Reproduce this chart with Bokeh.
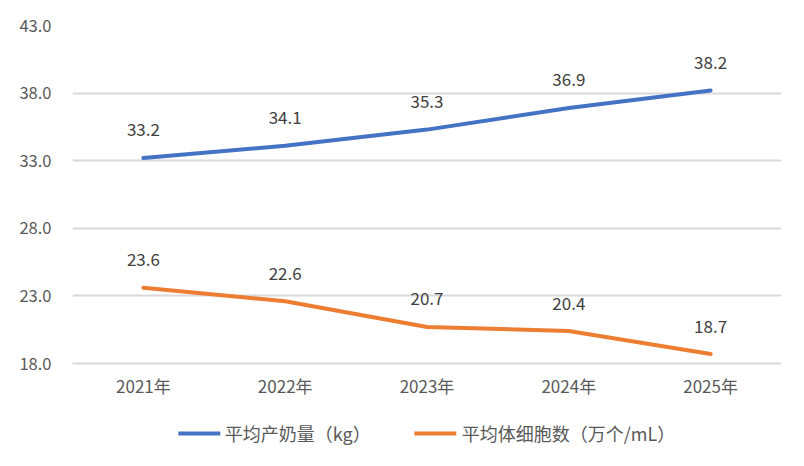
from bokeh.plotting import figure
from bokeh.layouts import column
from bokeh.models import FactorRange, Range1d, Legend, LegendItem, ColumnDataSource, FixedTicker, NumeralTickFormatter
from bokeh.core.properties import value
from bokeh.embed import file_html
from bokeh.resources import INLINE

years = ["2021年", "2022年", "2023年", "2024年", "2025年"]
milk = [33.2, 34.1, 35.3, 36.9, 38.2]
scc = [23.6, 22.6, 20.7, 20.4, 18.7]
milk_name = "平均产奶量（kg）"
scc_name = "平均体细胞数（万个/mL）"
y_ticks = [18.0, 23.0, 28.0, 33.0, 38.0, 43.0]

FONT = "Noto Sans CJK SC"
BLUE = "#4472C4"
ORANGE = "#ED7D31"

p = figure(width=804, height=400, x_range=FactorRange(*years), y_range=Range1d(18, 43),
           output_backend="svg", toolbar_location=None,
           min_border_left=72, min_border_right=23, min_border_top=25, min_border_bottom=35)
p.outline_line_color = None
p.border_fill_color = "white"

src_m = ColumnDataSource(dict(x=years, y=milk, t=[f"{v:.1f}" for v in milk]))
src_s = ColumnDataSource(dict(x=years, y=scc, t=[f"{v:.1f}" for v in scc]))

r1 = p.line("x", "y", source=src_m, line_color=BLUE, line_width=4, line_cap="round", line_join="round")
r2 = p.line("x", "y", source=src_s, line_color=ORANGE, line_width=4, line_cap="round", line_join="round")

for src in (src_m, src_s):
    p.text("x", "y", text="t", source=src, text_align="center", text_baseline="middle",
           y_offset=-28, text_font=value(FONT), text_font_size="17px", text_color="#404040")

p.yaxis.ticker = FixedTicker(ticks=y_ticks)
p.yaxis.formatter = NumeralTickFormatter(format="0.0")
p.yaxis.axis_line_color = None
p.yaxis.major_tick_line_color = None
p.yaxis.minor_tick_line_color = None
p.yaxis.major_label_text_font = FONT
p.yaxis.major_label_text_font_size = "16.5px"
p.yaxis.major_label_text_color = "#595959"
p.yaxis.major_label_standoff = 15

p.xaxis.axis_line_color = "#D9D9D9"
p.xaxis.axis_line_width = 2
p.xaxis.major_tick_line_color = None
p.xaxis.minor_tick_line_color = None
p.xaxis.major_label_text_font = FONT
p.xaxis.major_label_text_font_size = "17px"
p.xaxis.major_label_text_color = "#595959"
p.xaxis.major_label_standoff = 3

p.xgrid.grid_line_color = None
p.ygrid.grid_line_color = "#D9D9D9"
p.ygrid.grid_line_width = 2

# legend strip below the chart (series drawn out of its visible range, only the legend shows)
p2 = figure(width=804, height=66, x_range=FactorRange(*years), y_range=Range1d(0, 1),
            output_backend="svg", toolbar_location=None,
            min_border_left=0, min_border_right=0, min_border_top=0, min_border_bottom=0)
p2.axis.visible = False
p2.grid.grid_line_color = None
p2.outline_line_color = None
l1 = p2.line("x", "y", source=src_m, line_color=BLUE, line_width=4, line_cap="round")
l2 = p2.line("x", "y", source=src_s, line_color=ORANGE, line_width=4, line_cap="round")

legend = Legend(items=[LegendItem(label=milk_name, renderers=[l1]),
                       LegendItem(label=scc_name, renderers=[l2])],
                orientation="horizontal", location="center",
                label_text_font=FONT, label_text_font_size="18px", label_text_color="#595959",
                glyph_width=42, glyph_height=14, label_standoff=5, spacing=44,
                border_line_color=None, background_fill_alpha=0, margin=0, padding=6)
p2.add_layout(legend, "center")

layout = column(p, p2, spacing=0)
open("out.html", "w").write(file_html(layout, INLINE))
